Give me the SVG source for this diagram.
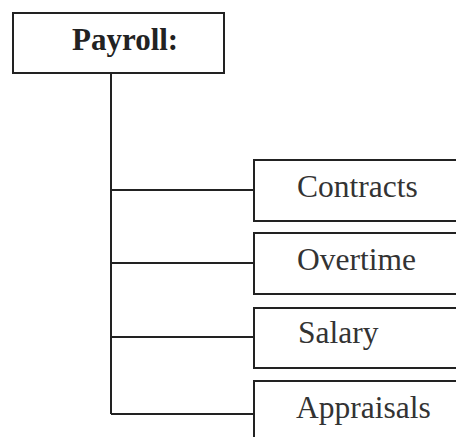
<svg xmlns="http://www.w3.org/2000/svg" width="456" height="437" viewBox="0 0 456 437">
  <style>
    .box { fill: #ffffff; stroke: #222222; stroke-width: 2; }
    .wire { fill: none; stroke: #222222; stroke-width: 2; }
    .title { font-family: "Liberation Serif", serif; font-size: 31px; font-weight: bold; fill: #222222; }
    .item { font-family: "Liberation Serif", serif; font-size: 31.5px; fill: #333333; }
  </style>
  <rect width="456" height="437" fill="#ffffff"/>
  <g id="connectors">
    <path class="wire" d="M111 73 V414 M111 190 H254 M111 263 H254 M111 337 H254 M111 414 H254"/>
  </g>
  <g id="payroll">
    <rect class="box" x="13" y="13" width="211" height="60"/>
    <text class="title" x="72" y="50">Payroll:</text>
  </g>
  <g id="contracts">
    <rect class="box" x="254" y="160" width="220" height="61"/>
    <text class="item" x="297" y="197">Contracts</text>
  </g>
  <g id="overtime">
    <rect class="box" x="254" y="233" width="220" height="61"/>
    <text class="item" x="297" y="270">Overtime</text>
  </g>
  <g id="salary">
    <rect class="box" x="254" y="308" width="220" height="60"/>
    <text class="item" x="298" y="343">Salary</text>
  </g>
  <g id="appraisals">
    <rect class="box" x="254" y="381" width="220" height="70"/>
    <text class="item" x="296" y="418">Appraisals</text>
  </g>
</svg>
